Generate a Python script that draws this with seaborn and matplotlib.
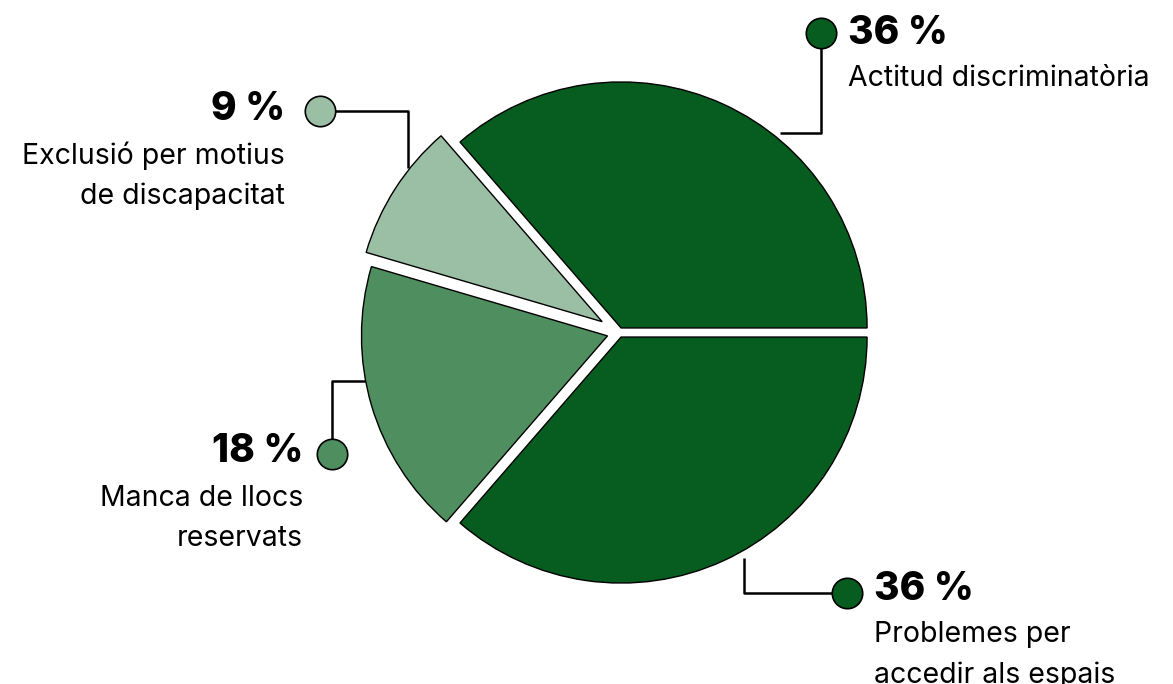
import matplotlib
matplotlib.use("Agg")
import matplotlib.pyplot as plt
import seaborn as sns

sns.set_theme(style="white")
plt.rcParams['font.family'] = ['Inter', 'DejaVu Sans']

# ---- data ----
categories = ["Actitud discriminatòria", "Exclusió per motius\nde discapacitat",
              "Manca de llocs\nreservats", "Problemes per\naccedir als espais"]
values = [36, 9, 18, 36]
value_labels = ["36 %", "9 %", "18 %", "36 %"]
colors = ["#075c1f", "#9bbfa4", "#4f8f5f", "#075c1f"]

W, H = 1173, 684
fig = plt.figure(figsize=(W / 100, H / 100), dpi=100)
ax = fig.add_axes([0, 0, 1, 1])
ax.set_xlim(0, W)
ax.set_ylim(0, H)
ax.set_aspect("equal")
ax.axis("off")

def Y(y):
    return H - y

# explode offsets in pixel units (matplotlib uses data units)
explode = [5, 20, 12, 5]
ax.pie(values, colors=colors, startangle=0, counterclock=True,
       explode=explode, center=(619, Y(332.5)), radius=246,
       wedgeprops=dict(edgecolor="black", linewidth=1))
ax.set_xlim(0, W)
ax.set_ylim(0, H)

layout = [
    dict(marker=(821, 33), path=[(821, 33), (821, 133), (780, 133)], tx=848, ty=33, ha="left"),
    dict(marker=(320, 111), path=[(320, 111), (408, 111), (408, 168)], tx=285, ty=110, ha="right"),
    dict(marker=(332, 454), path=[(332, 454), (332, 381), (365, 381)], tx=303, ty=452, ha="right"),
    dict(marker=(847, 593), path=[(847, 593), (744, 593), (744, 558)], tx=874, ty=589, ha="left"),
]

for cat, val, col, lay in zip(categories, value_labels, colors, layout):
    xs = [p[0] for p in lay["path"]]
    ys = [Y(p[1]) for p in lay["path"]]
    ax.plot(xs, ys, color="black", lw=1.8, zorder=3, solid_capstyle="butt")
    mx, my = lay["marker"]
    ax.scatter([mx], [Y(my)], s=480, color=col, edgecolor="black", linewidth=1.2, zorder=4)
    ax.text(lay["tx"], Y(lay["ty"]), val, ha=lay["ha"], va="center",
            fontsize=28, fontweight="heavy", color="black")
    for i, line in enumerate(cat.split("\n")):
        ax.text(lay["tx"], Y(lay["ty"] + 46 + 40 * i), line, ha=lay["ha"], va="center",
                fontsize=20.5, color="black")

fig.savefig("out.png", dpi=100)
